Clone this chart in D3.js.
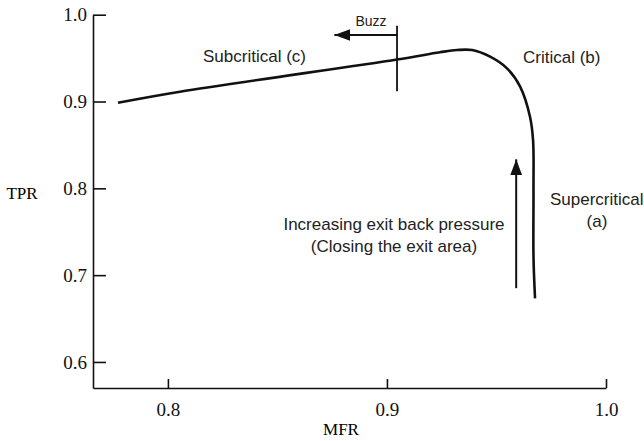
<!DOCTYPE html>
<html>
<head>
<meta charset="utf-8">
<script src="https://cdn.jsdelivr.net/npm/d3@7"></script>
<style>
  body { margin: 0; background: #fff; }
  .note { font-family: "Liberation Sans", Arial, sans-serif; font-size: 17px; fill: #222; }
</style>
</head>
<body>
<div id="chart"></div>
<script>
// DATA: characteristic curve
const mfr = [0.7772, 0.8055, 0.9046, 0.9242, 0.9320, 0.9389, 0.9471, 0.9548, 0.9608, 0.9653, 0.9667, 0.9669, 0.9669, 0.9676];
const tpr = [0.8986, 0.9113, 0.9484, 0.9567, 0.9593, 0.9593, 0.9516, 0.9382, 0.9171, 0.8825, 0.8556, 0.7980, 0.7212, 0.6733];
const xTicks = [0.8, 0.9, 1.0];
const yTicks = [0.6, 0.7, 0.8, 0.9, 1.0];

// annotation marks in data units
const buzzLine = [[0.9046, 0.9873], [0.9046, 0.9117]];
const buzzArrow = [[0.9046, 0.9766], [0.8760, 0.9766]];
const pressureArrow = [[0.9590, 0.6850], [0.9590, 0.8334]];

var width = 644;
var height = 441;
var serif = '"Liberation Serif", "Times New Roman", serif';

var x = d3.scaleLinear().domain([0.7658, 1.0]).range([93, 606]);
var y = d3.scaleLinear().domain([0.570, 1.0]).range([388, 14.7]);

var svg = d3.select('#chart')
  .append('svg')
    .attr('width', width)
    .attr('height', height);

svg.append('defs').append('marker')
    .attr('id', 'head')
    .attr('viewBox', '0 0 16 12')
    .attr('refX', 16)
    .attr('refY', 6)
    .attr('markerWidth', 16)
    .attr('markerHeight', 12)
    .attr('markerUnits', 'userSpaceOnUse')
    .attr('orient', 'auto')
  .append('path')
    .attr('d', 'M0,0 L16,6 L0,12 Z')
    .attr('fill', '#111');

// AXES
var xAxis = svg.append('g')
    .attr('transform', 'translate(0,388)')
    .call(d3.axisBottom(x).tickValues(xTicks).tickFormat(d3.format('.1f')).tickSizeInner(-9).tickSizeOuter(0));
xAxis.selectAll('text').attr('y', 15).attr('dy', '0.71em');

var yAxis = svg.append('g')
    .attr('transform', 'translate(93,0)')
    .call(d3.axisLeft(y).tickValues(yTicks).tickFormat(d3.format('.1f')).tickSizeInner(-13).tickSizeOuter(0));
yAxis.selectAll('text').attr('x', -6);

[xAxis, yAxis].forEach(function(g) {
  g.attr('font-family', serif).attr('font-size', 19);
  g.selectAll('text').attr('fill', '#111');
  g.selectAll('.domain, line').attr('stroke', '#111').attr('stroke-width', 1.6);
});

svg.append('text')
    .attr('x', 341).attr('y', 435)
    .attr('text-anchor', 'middle')
    .style('font-family', serif)
    .style('font-size', '17px')
    .text('MFR');

svg.append('text')
    .attr('x', 22).attr('y', 199)
    .attr('text-anchor', 'middle')
    .style('font-family', serif)
    .style('font-size', '17px')
    .text('TPR');

// CURVE
var pts = mfr.map(function(m, i) { return [m, tpr[i]]; });

svg.append('path')
    .attr('d', d3.line().x(d => x(d[0])).y(d => y(d[1])).curve(d3.curveCatmullRom.alpha(0.5))(pts))
    .attr('fill', 'none')
    .attr('stroke', '#111')
    .attr('stroke-width', 2.6);

// ANNOTATIONS
var seg = d3.line().x(d => x(d[0])).y(d => y(d[1]));

svg.append('path')
    .attr('d', seg(buzzLine))
    .attr('stroke', '#111')
    .attr('stroke-width', 1.8);

svg.append('path')
    .attr('d', seg(buzzArrow))
    .attr('stroke', '#111')
    .attr('stroke-width', 1.8)
    .attr('marker-end', 'url(#head)');

svg.append('path')
    .attr('d', seg(pressureArrow))
    .attr('stroke', '#111')
    .attr('stroke-width', 2)
    .attr('marker-end', 'url(#head)');

svg.append('text').attr('class', 'note')
    .attr('x', 371).attr('y', 26)
    .attr('text-anchor', 'middle')
    .style('font-size', '14px')
    .text('Buzz');

svg.append('text').attr('class', 'note')
    .attr('x', 203).attr('y', 62)
    .text('Subcritical (c)');

svg.append('text').attr('class', 'note')
    .attr('x', 523).attr('y', 63)
    .text('Critical (b)');

svg.append('text').attr('class', 'note')
    .attr('x', 550).attr('y', 205)
    .text('Supercritical');

svg.append('text').attr('class', 'note')
    .attr('x', 597).attr('y', 227)
    .attr('text-anchor', 'middle')
    .text('(a)');

svg.append('text').attr('class', 'note')
    .attr('x', 394).attr('y', 230)
    .attr('text-anchor', 'middle')
    .text('Increasing exit back pressure');

svg.append('text').attr('class', 'note')
    .attr('x', 394).attr('y', 252)
    .attr('text-anchor', 'middle')
    .text('(Closing the exit area)');
</script>
</body>
</html>
